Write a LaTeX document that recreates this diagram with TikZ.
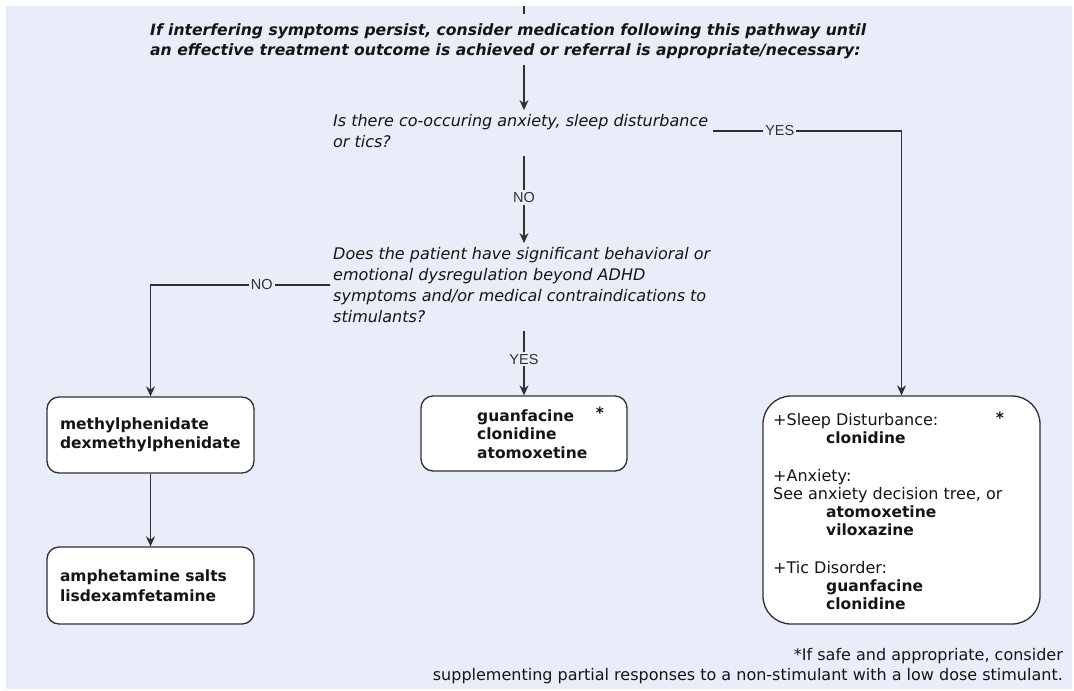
\documentclass[tikz,border=0pt]{standalone}
\usepackage{fontspec}
\setmainfont{DejaVu Sans}
\newfontfamily\labfont{Liberation Sans}
\usetikzlibrary{arrows.meta}
\definecolor{bg}{HTML}{E9EDF9}
\definecolor{ln}{HTML}{303030}
\definecolor{txt}{HTML}{151515}
\newcommand{\drg}[1]{{\fontsize{15.5}{19}\selectfont\bfseries #1}}
\begin{document}
\begin{tikzpicture}[x=1pt,y=-1pt,
  conn/.style={draw=ln, line width=1.3pt},
  arr/.style={conn, -{Stealth[length=10pt,width=9pt]}},
  lab/.style={fill=bg, inner sep=2pt, font=\labfont\fontsize{14.5}{14.5}\selectfont, text=ln},
  qtext/.style={anchor=west, inner sep=0pt, align=left, font=\fontsize{16}{21}\selectfont\itshape, text=txt},
  boxshape/.style={draw=ln, fill=white, line width=1.3pt, rounded corners=12pt},
  plain/.style={anchor=west, inner sep=0pt, align=left, text=txt},
  leftbox/.style={boxshape, minimum width=207pt, text width=181pt, inner xsep=13pt, align=left, text=txt, font=\fontsize{15.5}{19.5}\selectfont\bfseries}
]
\useasboundingbox (0,0) rectangle (1074,691);
\fill[bg] (6,6) rectangle (1072,689);

% title
\node[plain, font=\fontsize{15.6}{20}\selectfont\bfseries\itshape] (title) at (150,41)
  {If interfering symptoms persist, consider medication following this pathway until\\an effective treatment outcome is achieved or referral is appropriate/necessary:};

% questions
\node[qtext] (q1) at (333,131) {Is there co-occuring anxiety, sleep disturbance\\or tics?};
\node[qtext] (q2) at (333,285) {Does the patient have significant behavioral or\\emotional dysregulation beyond ADHD\\symptoms and/or medical contraindications to\\stimulants?};

% boxes
\node[leftbox, minimum height=76pt] (lb1) at (150.5,435) {methylphenidate\\dexmethylphenidate};
\node[leftbox, minimum height=77pt] (lb2) at (150.5,585.5) {amphetamine salts\\lisdexamfetamine};

\node[boxshape, minimum width=206pt, minimum height=75pt] (mid) at (524,433.5) {};
\node[plain, font=\fontsize{15.5}{18.5}\selectfont\bfseries] (midtext) at (477,434) {guanfacine\\clonidine\\atomoxetine};
\node[inner sep=0pt, text=txt, font=\fontsize{15.5}{15.5}\selectfont\bfseries] (midstar) at (600,413) {*};

\node[boxshape, rounded corners=28pt, minimum width=277pt, minimum height=228pt] (rbox) at (901.5,510) {};
\node[plain, font=\fontsize{16}{18}\selectfont] (rtext) at (773,512)
  {+Sleep Disturbance:\\\hspace*{53pt}\drg{clonidine}\\[20pt]+Anxiety:\\See anxiety decision tree, or\\\hspace*{53pt}\drg{atomoxetine}\\\hspace*{53pt}\drg{viloxazine}\\[20pt]+Tic Disorder:\\\hspace*{53pt}\drg{guanfacine}\\\hspace*{53pt}\drg{clonidine}};
\node[inner sep=0pt, text=txt, font=\fontsize{15.5}{15.5}\selectfont\bfseries] (rstar) at (1000,418) {*};

% footnote
\node[anchor=east, inner sep=0pt, align=right, text=txt, font=\fontsize{16}{20}\selectfont] (fn) at (1063,666)
  {*If safe and appropriate, consider\\supplementing partial responses to a non-stimulant with a low dose stimulant.};

% connectors
\coordinate (tk1) at (524,6);
\coordinate (tk2) at (524,14);
\draw[conn] (tk1) -- (tk2);
\draw[arr, shorten <=6pt, shorten >=4pt] (title.south -| mid.north) -- (q1.north -| mid.north);
\draw[arr, shorten <=5pt] (q1.east) -- node[lab, pos=0.37]{YES} (q1.east -| rbox.north) -- (rbox.north);
\draw[arr, shorten <=8pt, shorten >=4pt] (q1.south -| mid.north) -- node[lab]{NO} (q2.north -| mid.north);
\draw[arr, shorten <=3pt] (q2.west) -- node[lab, pos=0.39]{NO} (q2.west -| lb1.north) -- (lb1.north);
\draw[arr, shorten <=8pt] (q2.south -| mid.north) -- node[lab]{YES} (mid.north);
\draw[arr] (lb1) -- (lb2);
\end{tikzpicture}
\end{document}
